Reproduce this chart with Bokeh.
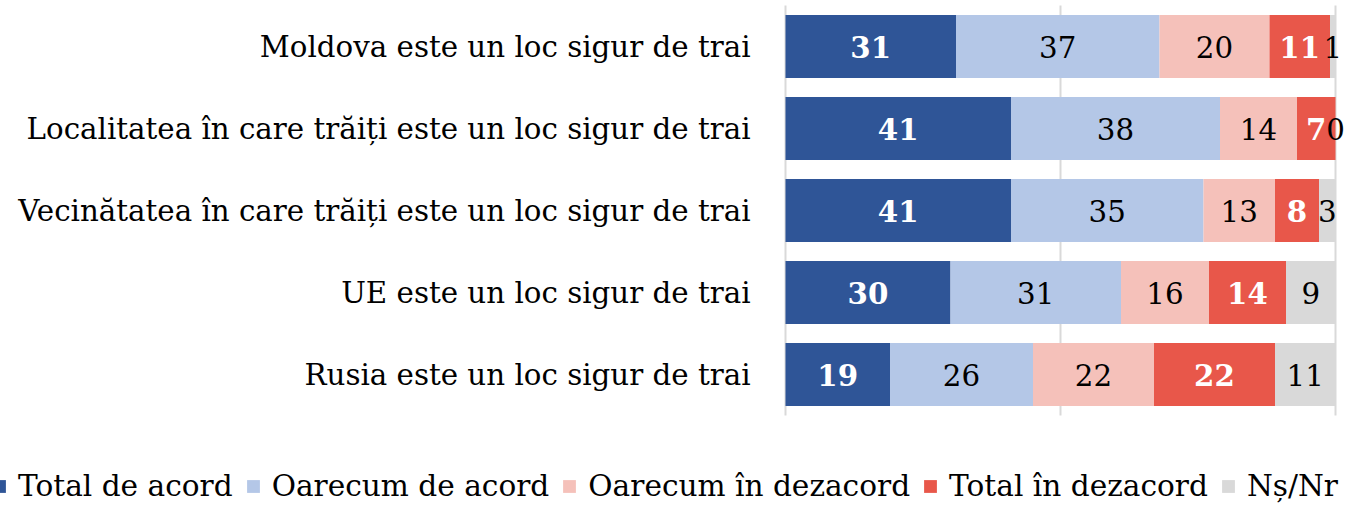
import numpy as np
from bokeh.plotting import figure
from bokeh.models import ColumnDataSource, Range1d, Legend, LegendItem
from bokeh.core.properties import value
from bokeh.embed import file_html
from bokeh.resources import INLINE

categories = [
    "Moldova este un loc sigur de trai",
    "Localitatea în care trăiți este un loc sigur de trai",
    "Vecinătatea în care trăiți este un loc sigur de trai",
    "UE este un loc sigur de trai",
    "Rusia este un loc sigur de trai",
]
series = ["Total de acord", "Oarecum de acord", "Oarecum în dezacord", "Total în dezacord", "Nș/Nr"]
total_acord = [31, 41, 41, 30, 19]
oarecum_acord = [37, 38, 35, 31, 26]
oarecum_dezacord = [20, 14, 13, 16, 22]
total_dezacord = [11, 7, 8, 14, 22]
ns_nr = [1, 0, 3, 9, 11]
grid_ticks = [0, 50, 100]
colors = ["#2F5597", "#B4C7E7", "#F5C1BA", "#E8574A", "#D9D9D9"]
label_colors = ["white", "black", "black", "white", "black"]
label_styles = ["bold", "normal", "normal", "bold", "normal"]

FONT = "DejaVu Serif"
FS = "29.3px"
LEG_FS = "29.6px"

# layout (pixels)
W, H = 1358, 503
LEFT_PX, PLOT_W_PX = 785, 550      # where 0% sits and the width of the 0-100% span
TOP_PX, BAND_PX = 5, 82            # top of bar area, height of one category band
ppu = PLOT_W_PX / 100.0
n = len(categories)
ypos = [n - 1 - i for i in range(n)]   # first category on top
y_end = n - 0.5 + TOP_PX / BAND_PX
y_start = y_end - H / BAND_PX

values = [total_acord, oarecum_acord, oarecum_dezacord, total_dezacord, ns_nr]
keys = ["s%d" % i for i in range(5)]
data = {"y": ypos, "cat": categories}
for k, v in zip(keys, values):
    data[k] = v
source = ColumnDataSource(data)

p = figure(width=W, height=H, output_backend="svg", toolbar_location=None,
           x_range=Range1d(-LEFT_PX / ppu, (W - LEFT_PX) / ppu), y_range=Range1d(y_start, y_end),
           min_border_left=0, min_border_right=0, min_border_top=0, min_border_bottom=0)
p.outline_line_color = None
p.axis.visible = False
p.grid.visible = False

# vertical gridlines at 0 / 50 / 100 spanning the category area
p.segment(x0=grid_ticks, x1=grid_ticks, y0=[-0.5] * len(grid_ticks), y1=[n - 0.5] * len(grid_ticks),
          line_color="#D9D9D9", line_width=2)

rends = p.hbar_stack(keys, y="y", height=0.77, color=colors, line_color=None, source=source)

# category labels (right aligned, left of the bars)
p.text(x=[0] * n, y=ypos, text=categories, x_offset=-35, text_align="right", text_baseline="middle",
       text_color="black", text_font=value(FONT), text_font_size=FS)

# data labels centred in each segment
arr = np.array(values, dtype=float)
cum = np.cumsum(arr, axis=0)
for i in range(5):
    centers = cum[i] - arr[i] / 2.0
    ls = ColumnDataSource(dict(x=centers, y=ypos, t=[str(v) for v in values[i]]))
    p.text(x="x", y="y", text="t", source=ls, text_align="center", text_baseline="middle",
           text_color=label_colors[i], text_font=value(FONT), text_font_size=FS,
           text_font_style=label_styles[i])

items = [LegendItem(label=s, renderers=[r]) for s, r in zip(series, rends)]
legend = Legend(items=items, orientation="horizontal", location=(-9, 0),
                label_text_font=FONT, label_text_font_size=LEG_FS, label_text_color="black",
                glyph_width=16, glyph_height=16, label_standoff=11, spacing=12,
                padding=0, margin=0, border_line_color=None, background_fill_alpha=0)
p.add_layout(legend, "center")

open("out.html", "w").write(file_html(p, INLINE))
